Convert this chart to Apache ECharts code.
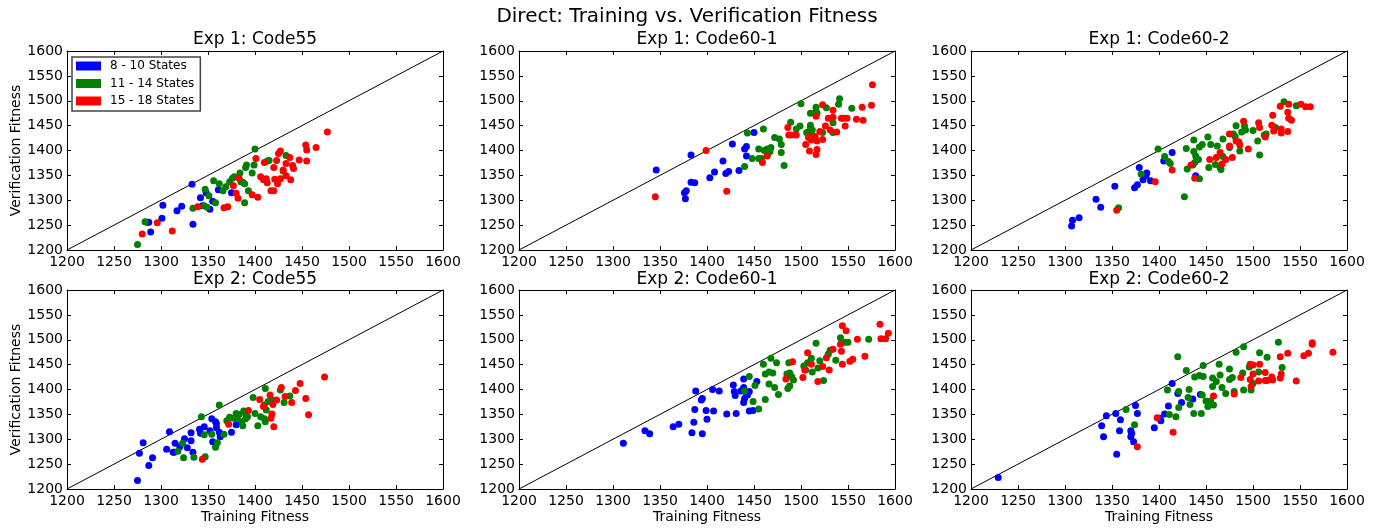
<!DOCTYPE html>
<html>
<head>
<meta charset="utf-8">
<script src="https://cdn.jsdelivr.net/npm/echarts@6/dist/echarts.min.js"></script>
<style>
html,body{margin:0;padding:0;background:#fff;}
#chart{width:1387px;height:531px;}
</style>
</head>
<body>
<div id="chart"></div>
<script>
// ---------- DATA ----------
const mainTitle = 'Direct: Training vs. Verification Fitness';
const panelTitles = ['Exp 1: Code55', 'Exp 1: Code60-1', 'Exp 1: Code60-2', 'Exp 2: Code55', 'Exp 2: Code60-1', 'Exp 2: Code60-2'];
const groupNames = ['8 - 10 States', '11 - 14 States', '15 - 18 States'];
const axisMin = 1200, axisMax = 1600, axisStep = 50;
const diagonal = [[1200, 1200], [1600, 1600]];

const e1c55Blue = [[1333,1332],[1285,1256],[1287,1256],[1289,1236],[1301,1264],[1302,1290],[1317,1279],[1322,1288],[1334,1252],[1342,1305],[1344,1289],[1348,1315],[1352,1282],[1355,1298],[1361,1321],[1375,1315]];
const e1c55Green = [[1275,1211],[1283,1257],[1334,1284],[1347,1322],[1346,1289],[1351,1309],[1356,1339],[1358,1295],[1362,1333],[1366,1319],[1369,1327],[1373,1337],[1376,1344],[1378,1347],[1384,1355],[1385,1337],[1389,1333],[1389,1295],[1390,1366],[1391,1371],[1393,1319],[1397,1355],[1399,1371],[1400,1403],[1413,1379],[1415,1380],[1430,1359],[1433,1390],[1387,1336],[1349,1286]];
const e1c55Red = [[1280,1232],[1296,1255],[1312,1238],[1339,1287],[1367,1285],[1371,1287],[1377,1329],[1380,1314],[1382,1304],[1383,1344],[1397,1311],[1401,1384],[1403,1306],[1406,1347],[1409,1341],[1410,1376],[1412,1343],[1413,1335],[1417,1319],[1420,1319],[1420,1366],[1421,1342],[1423,1380],[1425,1394],[1427,1399],[1424,1333],[1427,1343],[1430,1361],[1433,1349],[1437,1386],[1438,1341],[1440,1370],[1441,1364],[1447,1381],[1454,1411],[1455,1401],[1455,1379],[1465,1406],[1477,1437],[1433,1374]];

const e1c601Blue = [[1346,1361],[1376,1315],[1378,1319],[1377,1303],[1383,1391],[1383,1336],[1387,1335],[1403,1345],[1408,1357],[1417,1379],[1420,1354],[1423,1358],[1427,1413],[1434,1360],[1440,1403],[1442,1408],[1442,1389],[1450,1436]];
const e1c601Green = [[1440,1368],[1443,1435],[1448,1384],[1460,1443],[1455,1403],[1455,1384],[1458,1384],[1461,1400],[1464,1403],[1465,1394],[1466,1400],[1468,1406],[1467,1398],[1472,1426],[1477,1423],[1479,1412],[1479,1396],[1482,1370],[1489,1457],[1495,1443],[1499,1449],[1500,1494],[1506,1436],[1510,1451],[1510,1446],[1510,1475],[1511,1436],[1512,1441],[1516,1487],[1516,1479],[1517,1475],[1527,1486],[1523,1436],[1534,1436],[1534,1456],[1540,1493],[1541,1504],[1554,1485]];
const e1c601Red = [[1345,1307],[1399,1400],[1421,1318],[1459,1376],[1464,1389],[1486,1446],[1487,1431],[1490,1431],[1495,1431],[1505,1412],[1508,1426],[1509,1399],[1511,1421],[1515,1428],[1516,1392],[1517,1402],[1517,1419],[1516,1469],[1520,1438],[1523,1492],[1523,1422],[1526,1449],[1529,1465],[1531,1441],[1534,1481],[1534,1467],[1538,1437],[1545,1465],[1547,1449],[1549,1465],[1543,1465],[1559,1463],[1565,1487],[1566,1461],[1575,1491],[1576,1532]];

const e1c602Blue = [[1307,1248],[1308,1260],[1315,1265],[1333,1302],[1338,1286],[1353,1328],[1374,1325],[1377,1331],[1379,1366],[1383,1341],[1386,1349],[1387,1355],[1391,1339],[1405,1379],[1414,1396],[1439,1349]];
const e1c602Green = [[1357,1285],[1381,1353],[1399,1403],[1406,1388],[1410,1378],[1412,1374],[1427,1307],[1429,1404],[1430,1363],[1436,1371],[1437,1421],[1437,1398],[1438,1376],[1439,1389],[1442,1382],[1443,1343],[1443,1407],[1446,1412],[1452,1427],[1453,1366],[1455,1412],[1460,1372],[1462,1409],[1465,1366],[1466,1362],[1468,1423],[1468,1388],[1475,1406],[1479,1433],[1481,1428],[1482,1450],[1486,1399],[1488,1437],[1491,1449],[1492,1441],[1500,1440],[1505,1419],[1507,1391],[1512,1431],[1514,1433],[1524,1446],[1533,1498],[1546,1490]];
const e1c602Red = [[1355,1280],[1396,1337],[1414,1361],[1434,1371],[1438,1344],[1454,1382],[1461,1386],[1465,1396],[1467,1373],[1471,1382],[1475,1433],[1475,1409],[1478,1386],[1482,1419],[1485,1417],[1486,1411],[1490,1459],[1495,1403],[1506,1456],[1507,1446],[1513,1427],[1520,1451],[1521,1471],[1522,1439],[1529,1489],[1530,1443],[1530,1435],[1537,1438],[1537,1477],[1538,1493],[1538,1465],[1541,1461],[1551,1493],[1556,1488],[1561,1488]];

const e2c55Blue = [[1275,1217],[1277,1272],[1281,1293],[1287,1247],[1291,1263],[1306,1280],[1309,1315],[1313,1274],[1315,1292],[1314,1274],[1320,1285],[1325,1301],[1328,1283],[1332,1313],[1332,1297],[1334,1274],[1341,1320],[1342,1312],[1346,1325],[1352,1317],[1354,1341],[1355,1295],[1358,1335],[1359,1323],[1359,1331],[1362,1314],[1363,1305],[1375,1314],[1380,1329],[1382,1335]];
const e2c55Green = [[1318,1276],[1324,1263],[1323,1292],[1335,1264],[1343,1345],[1346,1309],[1347,1265],[1354,1310],[1358,1284],[1360,1293],[1362,1369],[1367,1310],[1370,1337],[1373,1344],[1377,1342],[1380,1352],[1381,1341],[1383,1350],[1386,1335],[1387,1327],[1388,1357],[1390,1352],[1392,1345],[1390,1341],[1398,1384],[1400,1352],[1403,1327],[1406,1345],[1410,1341],[1411,1335],[1411,1402],[1412,1359],[1410,1369],[1414,1376],[1418,1379],[1420,1378],[1427,1399],[1431,1374],[1437,1387]];
const e2c55Red = [[1344,1260],[1372,1330],[1393,1358],[1405,1380],[1409,1366],[1416,1389],[1417,1342],[1418,1351],[1419,1370],[1420,1325],[1423,1379],[1428,1404],[1432,1386],[1439,1374],[1443,1398],[1448,1412],[1454,1382],[1457,1349],[1474,1425]];

const e2c601Blue = [[1311,1292],[1334,1317],[1339,1311],[1364,1325],[1370,1330],[1384,1313],[1386,1334],[1387,1360],[1388,1397],[1394,1379],[1395,1311],[1395,1382],[1399,1358],[1400,1340],[1406,1400],[1407,1357],[1413,1397],[1421,1351],[1428,1409],[1429,1396],[1430,1388],[1431,1352],[1436,1397],[1439,1421],[1439,1404],[1439,1374],[1440,1382],[1442,1392],[1443,1389],[1445,1396],[1445,1357],[1449,1358],[1453,1416]];
const e2c601Green = [[1440,1397],[1445,1426],[1449,1376],[1451,1408],[1455,1361],[1460,1451],[1462,1380],[1462,1431],[1466,1411],[1466,1435],[1468,1463],[1470,1433],[1472,1404],[1474,1454],[1476,1390],[1485,1431],[1486,1402],[1487,1454],[1488,1433],[1488,1407],[1490,1426],[1492,1419],[1503,1447],[1505,1439],[1507,1454],[1511,1463],[1512,1435],[1516,1493],[1518,1443],[1520,1458],[1524,1418],[1529,1471],[1531,1479],[1537,1459],[1542,1504],[1547,1495],[1550,1495],[1572,1501]];
const e2c601Red = [[1484,1421],[1491,1456],[1502,1424],[1504,1439],[1507,1474],[1511,1451],[1518,1416],[1523,1446],[1527,1464],[1530,1439],[1534,1481],[1542,1491],[1543,1477],[1544,1451],[1544,1528],[1548,1518],[1552,1457],[1555,1461],[1560,1501],[1568,1467],[1584,1531],[1585,1502],[1590,1502],[1593,1513]];

const e2c602Blue = [[1229,1223],[1339,1327],[1341,1305],[1344,1347],[1354,1352],[1355,1270],[1358,1317],[1359,1339],[1370,1317],[1370,1305],[1371,1312],[1373,1295],[1375,1368],[1377,1352],[1395,1323],[1401,1342],[1402,1337],[1406,1351],[1410,1367],[1414,1412],[1420,1392],[1424,1374],[1436,1381],[1444,1390]];
const e2c602Green = [[1365,1360],[1374,1329],[1409,1399],[1411,1350],[1418,1345],[1420,1466],[1421,1396],[1421,1364],[1429,1438],[1431,1384],[1432,1400],[1433,1370],[1437,1352],[1438,1425],[1443,1428],[1445,1352],[1446,1389],[1447,1448],[1447,1426],[1450,1377],[1452,1366],[1455,1377],[1457,1423],[1457,1406],[1458,1369],[1461,1416],[1464,1451],[1465,1429],[1467,1404],[1471,1392],[1475,1441],[1475,1420],[1478,1424],[1480,1396],[1482,1475],[1489,1433],[1490,1399],[1490,1486],[1496,1445],[1498,1399],[1500,1412],[1506,1435],[1507,1474],[1515,1465],[1527,1495],[1531,1444]];
const e2c602Red = [[1377,1285],[1398,1343],[1415,1314],[1458,1387],[1480,1391],[1487,1424],[1497,1451],[1497,1420],[1498,1406],[1500,1431],[1500,1449],[1506,1417],[1507,1451],[1513,1434],[1513,1418],[1515,1418],[1520,1425],[1521,1419],[1529,1466],[1529,1423],[1530,1431],[1537,1473],[1546,1417],[1554,1468],[1559,1473],[1563,1491],[1563,1494],[1585,1475]];

const panels = [
  [e1c55Blue, e1c55Green, e1c55Red],
  [e1c601Blue, e1c601Green, e1c601Red],
  [e1c602Blue, e1c602Green, e1c602Red],
  [e2c55Blue, e2c55Green, e2c55Red],
  [e2c601Blue, e2c601Green, e2c601Red],
  [e2c602Blue, e2c602Green, e2c602Red]
];

// ---------- LAYOUT / STYLE ----------
const FONT = 'DejaVu Sans';
const groupColors = ['#0000ff', '#008000', '#ff0000'];
const gridLefts = [67, 519, 971];
const gridTops = [51, 290];
const gridW = 376, gridH = 199;

const grids = [], xAxes = [], yAxes = [], series = [], graphics = [];
for (let i = 0; i < 6; i++) {
  const col = i % 3, row = Math.floor(i / 3);
  grids.push({left: gridLefts[col], top: gridTops[row], width: gridW, height: gridH, containLabel: false});
}
function baseAxis(gi, pos, showLabel) {
  return {
    type: 'value', gridIndex: gi, position: pos, min: axisMin, max: axisMax, interval: axisStep,
    axisLine: {show: true, onZero: false, lineStyle: {color: '#000', width: 1}},
    axisTick: {show: true, inside: true, length: 4, lineStyle: {color: '#000', width: 1}},
    splitLine: {show: false},
    axisLabel: {show: showLabel, color: '#000', fontFamily: FONT, fontSize: 14,
      margin: pos === 'bottom' ? 5 : 4, formatter: function (v) { return String(v); }},
    nameTextStyle: {color: '#000', fontFamily: FONT, fontSize: 14}
  };
}
for (let i = 0; i < 6; i++) {
  const col = i % 3, row = Math.floor(i / 3);
  const xb = baseAxis(i, 'bottom', true);
  if (row === 1) { xb.name = 'Training Fitness'; xb.nameLocation = 'middle'; xb.nameGap = 21; }
  xAxes.push(xb);
  const yl = baseAxis(i, 'left', true);
  if (col === 0) { yl.name = 'Verification Fitness'; yl.nameLocation = 'middle'; yl.nameGap = 44; }
  yAxes.push(yl);
}
for (let i = 0; i < 6; i++) {
  xAxes.push(baseAxis(i, 'top', false));
  yAxes.push(baseAxis(i, 'right', false));
}
for (let i = 0; i < 6; i++) {
  series.push({
    type: 'line', xAxisIndex: i, yAxisIndex: i, data: diagonal, symbol: 'none', silent: true,
    lineStyle: {color: '#000', width: 1}, z: 1, animation: false
  });
  for (let g = 0; g < 3; g++) {
    series.push({
      name: groupNames[g], type: 'scatter', xAxisIndex: i, yAxisIndex: i, data: panels[i][g],
      symbol: 'circle', symbolSize: 7, itemStyle: {color: groupColors[g], opacity: 1}, z: 2 + g, animation: false
    });
  }
  const col = i % 3, row = Math.floor(i / 3);
  graphics.push({
    type: 'text', x: gridLefts[col] + gridW / 2, y: row === 0 ? 40 : 279.5,
    style: {text: panelTitles[i], font: '17px "' + FONT + '"', fill: '#000', align: 'center', verticalAlign: 'middle'}
  });
}
graphics.push({
  type: 'text', x: 687, y: 17,
  style: {text: mainTitle, font: '20px "' + FONT + '"', fill: '#000', align: 'center', verticalAlign: 'middle'}
});

const chart = echarts.init(document.getElementById('chart'), null, {renderer: 'canvas'});
chart.setOption({
  backgroundColor: '#fff',
  animation: false,
  grid: grids,
  xAxis: xAxes,
  yAxis: yAxes,
  legend: {
    data: groupNames, orient: 'vertical', left: 72, top: 57,
    padding: [2, 6, 3, 4], itemGap: 3.5, itemWidth: 25, itemHeight: 9, icon: 'rect',
    backgroundColor: '#fff', borderColor: '#444', borderWidth: 1.5, borderRadius: 0,
    textStyle: {color: '#000', fontFamily: FONT, fontSize: 12, lineHeight: 14, padding: [0, 0, 0, 4]},
    selectedMode: false
  },
  graphic: graphics,
  series: series
});
</script>
</body>
</html>
